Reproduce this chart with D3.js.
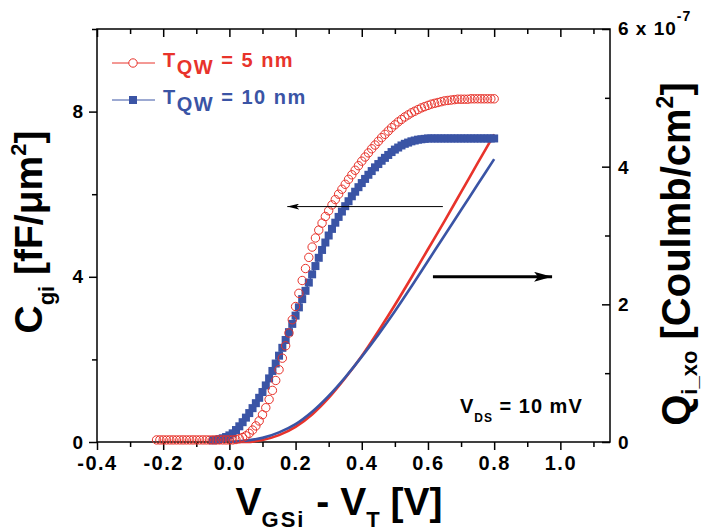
<!DOCTYPE html>
<html>
<head>
<meta charset="utf-8">
<script src="https://cdn.jsdelivr.net/npm/d3@7"></script>
<style>
  body { margin: 0; background: #fff; }
  svg { display: block; font-family: "Liberation Sans", Arial, sans-serif; font-weight: bold; }
</style>
</head>
<body>
<svg id="chart" width="703" height="531"></svg>
<script>
// ---- data -------------------------------------------------------------
// gate sweep: uniform 10 mV steps
const sweepStep = 0.01;
const sweepStart5 = -0.22;   // first bias of the 5 nm sweep
const sweepStart10 = -0.05;  // first bias of the 10 nm sweep

// gate capacitance C_gi [fF/um^2], T_QW = 5 nm  (-0.22 V ... 0.80 V)
const cgi5 = [
  0.05, 0.05, 0.05, 0.05, 0.05, 0.05, 0.05, 0.05, 0.05, 0.05,
  0.05, 0.05, 0.05, 0.05, 0.05, 0.05, 0.05, 0.05, 0.05, 0.05,
  0.05, 0.05, 0.05,
  0.05, 0.06, 0.08, 0.11, 0.15, 0.21, 0.29, 0.39, 0.51, 0.66,
  0.83, 1.03, 1.25, 1.49, 1.75, 2.03, 2.33, 2.64, 2.96, 3.28,
  3.60, 3.91, 4.20, 4.47, 4.72, 4.94, 5.13, 5.30, 5.46, 5.60,
  5.74, 5.87, 6.00, 6.12, 6.24, 6.36, 6.47, 6.58, 6.69, 6.80,
  6.90, 7.00, 7.10, 7.19, 7.28, 7.37, 7.45, 7.53, 7.61, 7.68,
  7.75, 7.81, 7.87, 7.92, 7.97, 8.01, 8.05, 8.09, 8.12, 8.15,
  8.18, 8.20, 8.22, 8.24, 8.26, 8.27, 8.28, 8.29, 8.30, 8.30,
  8.30, 8.30, 8.31, 8.31, 8.31, 8.31, 8.31, 8.31, 8.31, 8.31
];

// gate capacitance C_gi [fF/um^2], T_QW = 10 nm  (-0.05 V ... 0.80 V)
const cgi10 = [
  0.04, 0.05, 0.07, 0.09, 0.12,
  0.16, 0.21, 0.29, 0.38, 0.48, 0.59, 0.70, 0.82, 0.94, 1.07,
  1.21, 1.37, 1.54, 1.72, 1.90, 2.09, 2.28, 2.47, 2.66, 2.86,
  3.06, 3.26, 3.46, 3.66, 3.86, 4.06, 4.26, 4.46, 4.65, 4.83,
  5.00, 5.16, 5.31, 5.45, 5.58, 5.71, 5.83, 5.95, 6.06, 6.17,
  6.27, 6.37, 6.47, 6.56, 6.65, 6.73, 6.81, 6.88, 6.95, 7.02,
  7.08, 7.13, 7.18, 7.22, 7.25, 7.28, 7.30, 7.32, 7.33, 7.34,
  7.35, 7.35, 7.35, 7.35, 7.35, 7.35, 7.35, 7.35, 7.35, 7.35,
  7.35, 7.35, 7.35, 7.35, 7.35, 7.35, 7.35, 7.35, 7.35, 7.35,
  7.35
];

// inversion charge Q_i_xo [1e-7 C/cm^2]
const qBias = [0.00, 0.05, 0.10, 0.15, 0.20, 0.25, 0.30, 0.35, 0.40, 0.45, 0.50, 0.55, 0.60, 0.65, 0.70, 0.75, 0.80];
const qi5   = [0.00, 0.00, 0.03, 0.10, 0.22, 0.40, 0.64, 0.93, 1.25, 1.61, 1.99, 2.39, 2.80, 3.21, 3.63, 4.05, 4.47];
const qi10  = [0.00, 0.02, 0.06, 0.14, 0.26, 0.44, 0.67, 0.94, 1.24, 1.56, 1.90, 2.26, 2.63, 3.00, 3.37, 3.74, 4.11];

// ticks
const xMajor = [-0.4, -0.2, 0.0, 0.2, 0.4, 0.6, 0.8, 1.0];
const xMinor = [-0.3, -0.1, 0.1, 0.3, 0.5, 0.7, 0.9, 1.1];
const xLabels = ["-0.4", "-0.2", "0.0", "0.2", "0.4", "0.6", "0.8", "1.0"];
const leftMajor = [0, 4, 8];
const leftMinor = [2, 6, 10];
const rightMajor = [0, 2, 4, 6];
const rightMinor = [1, 3, 5];
const rightLabels = ["0", "2", "4"];

const red = "#e8332b";
const blue = "#3a54a5";

// ---- layout -----------------------------------------------------------
const svg = d3.select("#chart");
const L = 97, R = 610, T = 29, B = 442;

const x = d3.scaleLinear().domain([-0.4, 1.15]).range([L, R]);
const yL = d3.scaleLinear().domain([0, 10]).range([B, T]);
const yR = d3.scaleLinear().domain([0, 6]).range([B, T]);

const pts5 = cgi5.map((c, i) => [sweepStart5 + i * sweepStep, c]);
const pts10 = cgi10.map((c, i) => [sweepStart10 + i * sweepStep, c]);

// ---- axes -------------------------------------------------------------
function styleAxis(g) {
  g.select(".domain").remove();
  g.selectAll(".tick line").attr("stroke", "#000").attr("stroke-width", 1.5);
  g.selectAll(".tick text").attr("fill", "#000").attr("font-family", "Liberation Sans, Arial, sans-serif")
    .attr("font-weight", "bold");
}

// bottom
svg.append("g").attr("transform", `translate(0,${B})`)
  .call(d3.axisBottom(x).tickValues(xMajor).tickSize(8).tickPadding(6).tickFormat((d, i) => xLabels[i]))
  .call(styleAxis)
  .call(g => g.selectAll(".tick text").attr("font-size", 20).attr("letter-spacing", "1.5px"));
svg.append("g").attr("transform", `translate(0,${B})`)
  .call(d3.axisBottom(x).tickValues(xMinor).tickSize(5).tickFormat(""))
  .call(styleAxis);
// top (inward, unlabeled)
svg.append("g").attr("transform", `translate(0,${T})`)
  .call(d3.axisBottom(x).tickValues(xMajor).tickSize(8).tickFormat(""))
  .call(styleAxis);
svg.append("g").attr("transform", `translate(0,${T})`)
  .call(d3.axisBottom(x).tickValues(xMinor).tickSize(5).tickFormat(""))
  .call(styleAxis);
// left
svg.append("g").attr("transform", `translate(${L},0)`)
  .call(d3.axisLeft(yL).tickValues(leftMajor).tickSize(8).tickPadding(6).tickFormat(d3.format("d")))
  .call(styleAxis)
  .call(g => g.selectAll(".tick text").attr("font-size", 19));
svg.append("g").attr("transform", `translate(${L},0)`)
  .call(d3.axisLeft(yL).tickValues(leftMinor).tickSize(5).tickFormat(""))
  .call(styleAxis);
// right (inward ticks, labels outside)
svg.append("g").attr("transform", `translate(${R},0)`)
  .call(d3.axisLeft(yR).tickValues(rightMajor).tickSize(8).tickFormat(""))
  .call(styleAxis);
svg.append("g").attr("transform", `translate(${R},0)`)
  .call(d3.axisLeft(yR).tickValues(rightMinor).tickSize(5).tickFormat(""))
  .call(styleAxis);
svg.append("g").selectAll("text").data(rightMajor.slice(0, 3)).join("text")
  .attr("x", R + 8).attr("y", d => yR(d) + 7)
  .attr("font-size", 19).text((d, i) => rightLabels[i]);
// top value of the right axis with its exponent
const topLab = svg.append("text").attr("x", R + 8).attr("y", yR(6) + 6)
  .attr("font-size", 19).attr("letter-spacing", "1px");
topLab.append("tspan").text("6 x 10");
topLab.append("tspan").attr("font-size", 14).attr("dy", -14).text("-7");

// frame
svg.append("rect").attr("x", L).attr("y", T).attr("width", R - L).attr("height", B - T)
  .attr("fill", "none").attr("stroke", "#000").attr("stroke-width", 1.5);

// ---- plot ---------------------------------------------------------------
const plot = svg.append("g");

// charge curves (right axis)
const qLine = d3.line().x(d => x(d[0])).y(d => yR(d[1])).curve(d3.curveMonotoneX);
plot.append("path").datum(qBias.map((v, i) => [v, qi5[i]]))
  .attr("d", qLine).attr("fill", "none").attr("stroke", red).attr("stroke-width", 2.6);
plot.append("path").datum(qBias.map((v, i) => [v, qi10[i]]))
  .attr("d", qLine).attr("fill", "none").attr("stroke", blue).attr("stroke-width", 2.6);

// capacitance: 10 nm filled squares joined by a thin line
const sq = 8;
const cLine = d3.line().x(d => x(d[0])).y(d => yL(d[1]));
plot.append("path").datum(pts10).attr("d", cLine)
  .attr("fill", "none").attr("stroke", blue).attr("stroke-width", 1.5);
plot.append("g").selectAll("rect").data(pts10).join("rect")
  .attr("x", d => x(d[0]) - sq / 2).attr("y", d => yL(d[1]) - sq / 2)
  .attr("width", sq).attr("height", sq).attr("fill", blue);

// capacitance: 5 nm open circles
plot.append("g").selectAll("circle").data(pts5).join("circle")
  .attr("cx", d => x(d[0])).attr("cy", d => yL(d[1])).attr("r", 4.2)
  .attr("fill", "none").attr("stroke", red).attr("stroke-width", 1);

// ---- annotations --------------------------------------------------------
const defs = svg.append("defs");
defs.append("marker").attr("id", "headThin").attr("viewBox", "0 0 12 6")
  .attr("refX", 12).attr("refY", 3).attr("markerWidth", 12).attr("markerHeight", 6)
  .attr("markerUnits", "userSpaceOnUse").attr("orient", "auto")
  .append("path").attr("d", "M0,0 L12,3 L0,6 L3,3 Z").attr("fill", "#000");
defs.append("marker").attr("id", "headThick").attr("viewBox", "0 0 18 10")
  .attr("refX", 18).attr("refY", 5).attr("markerWidth", 18).attr("markerHeight", 10)
  .attr("markerUnits", "userSpaceOnUse").attr("orient", "auto")
  .append("path").attr("d", "M0,0 L18,5 L0,10 L4,5 Z").attr("fill", "#000");

// arrow pointing to the capacitance axis (left)
const leftArrow = { from: [0.645, 5.7], to: [0.175, 5.7] };
svg.append("line")
  .attr("x1", x(leftArrow.from[0])).attr("y1", yL(leftArrow.from[1]))
  .attr("x2", x(leftArrow.to[0])).attr("y2", yL(leftArrow.to[1]))
  .attr("stroke", "#000").attr("stroke-width", 1).attr("marker-end", "url(#headThin)");
// arrow pointing to the charge axis (right)
const rightArrow = { from: [0.615, 2.40], to: [0.975, 2.40] };
svg.append("line")
  .attr("x1", x(rightArrow.from[0])).attr("y1", yR(rightArrow.from[1]))
  .attr("x2", x(rightArrow.to[0])).attr("y2", yR(rightArrow.to[1]))
  .attr("stroke", "#000").attr("stroke-width", 3).attr("marker-end", "url(#headThick)");

// V_DS note
const vds = svg.append("text").attr("x", 460).attr("y", 413).attr("font-size", 20).attr("letter-spacing", "1px");
vds.append("tspan").text("V");
vds.append("tspan").attr("font-size", 12).attr("dy", 9).text("DS");
vds.append("tspan").attr("dy", -9).text(" = 10 mV");

// ---- legend -------------------------------------------------------------
const legendItems = [
  { color: red, sub: "QW", rest: " = 5 nm", mark: "circle" },
  { color: blue, sub: "QW", rest: " = 10 nm", mark: "square" }
];
const lg = svg.append("g");
legendItems.forEach((it, i) => {
  const cy = 63 + i * 37;
  lg.append("line").attr("x1", 112).attr("x2", 155).attr("y1", cy).attr("y2", cy)
    .attr("stroke", it.color).attr("stroke-width", 1);
  if (it.mark === "circle") {
    lg.append("circle").attr("cx", 133).attr("cy", cy).attr("r", 4.2)
      .attr("fill", "#fff").attr("stroke", it.color).attr("stroke-width", 1);
  } else {
    lg.append("rect").attr("x", 133 - sq / 2).attr("y", cy - sq / 2).attr("width", sq).attr("height", sq)
      .attr("fill", it.color);
  }
  const t = lg.append("text").attr("x", 163).attr("y", cy + 4).attr("font-size", 20)
    .attr("fill", it.color).attr("letter-spacing", "1.5px");
  t.append("tspan").text("T");
  t.append("tspan").attr("dy", 7).text(it.sub);
  t.append("tspan").attr("dy", -7).text(it.rest);
});

// ---- axis titles --------------------------------------------------------
const xt = svg.append("text").attr("x", 339).attr("y", 515).attr("text-anchor", "middle")
  .attr("font-size", 39);
xt.append("tspan").text("V");
xt.append("tspan").attr("font-size", 22).attr("dy", 12).attr("letter-spacing", "2px").text("GSi");
xt.append("tspan").attr("dy", -12).text(" - V");
xt.append("tspan").attr("font-size", 22).attr("dy", 12).text("T");
xt.append("tspan").attr("dy", -12).text(" [V]");

const ylt = svg.append("text").attr("transform", "translate(42,232) rotate(-90)")
  .attr("text-anchor", "middle").attr("font-size", 39);
ylt.append("tspan").text("C");
ylt.append("tspan").attr("font-size", 22).attr("dy", 12).text("gi");
ylt.append("tspan").attr("dy", -12).text(" [fF/\u03bcm");
ylt.append("tspan").attr("font-size", 22).attr("dy", -16).text("2");
ylt.append("tspan").attr("dy", 16).text("]");

const yrt = svg.append("text").attr("transform", "translate(690,254) rotate(-90)")
  .attr("text-anchor", "middle").attr("font-size", 40);
yrt.append("tspan").text("Q");
yrt.append("tspan").attr("font-size", 22).attr("dy", 7).text("i_xo");
yrt.append("tspan").attr("dy", -7).text(" [Coulmb/cm");
yrt.append("tspan").attr("font-size", 23).attr("dy", -17).text("2");
yrt.append("tspan").attr("dy", 17).text("]");
</script>
</body>
</html>
